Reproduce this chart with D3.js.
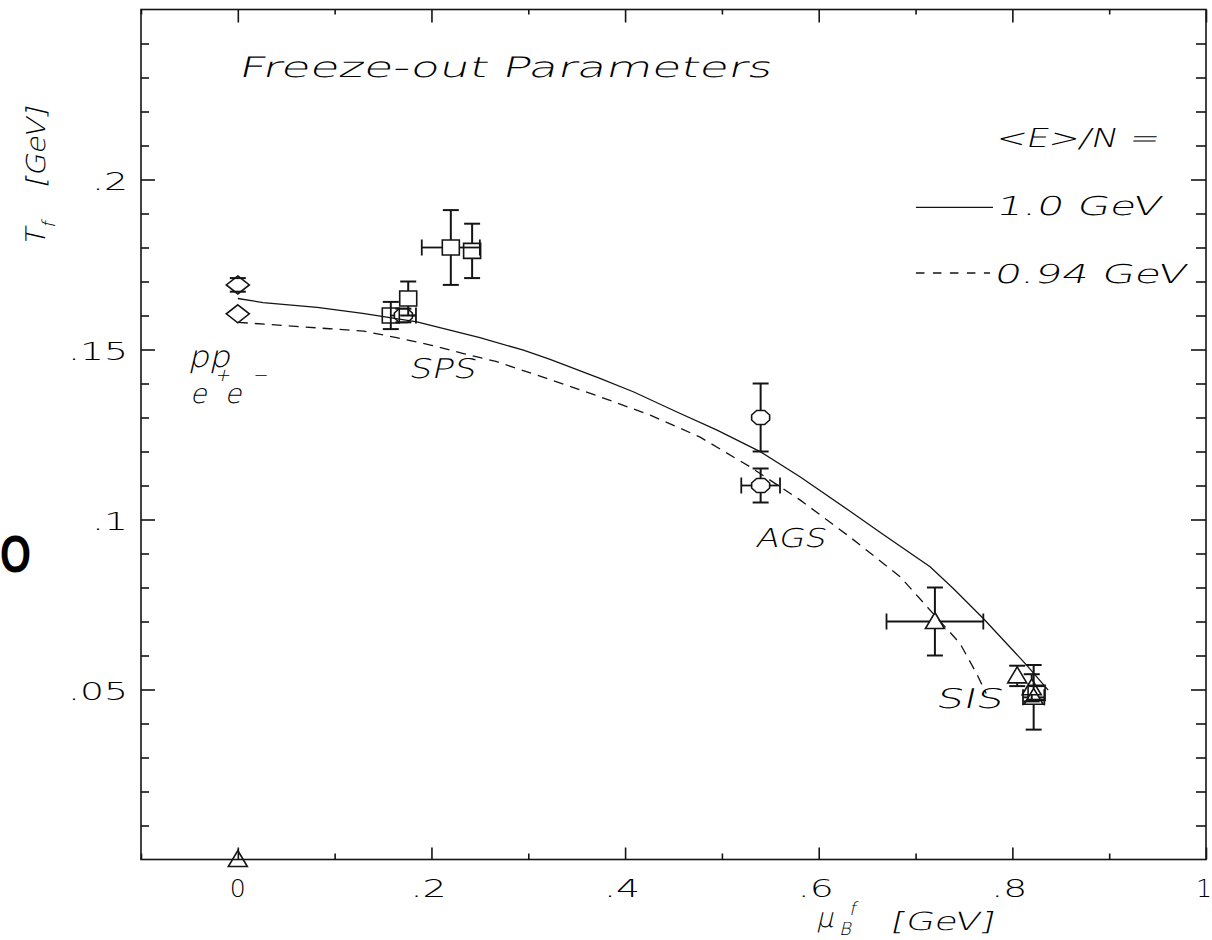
<!DOCTYPE html>
<html>
<head>
<meta charset="utf-8">
<script src="https://cdn.jsdelivr.net/npm/d3@7"></script>
<style>
  html, body { margin: 0; padding: 0; background: #fff; }
  svg { display: block; }
  text { font-family: "DejaVu Sans ExtraLight", "DejaVu Sans", sans-serif; font-weight: 200; fill: #000; }
</style>
</head>
<body>
<svg id="chart" width="1212" height="940"></svg>
<script>
// Thermal-model freeze-out curves, <E>/N = 1.0 GeV (solid)
const muSolid = [0, 0.026, 0.082, 0.129, 0.185, 0.219, 0.25, 0.295, 0.3225, 0.374, 0.409, 0.453,
                 0.495, 0.54, 0.581, 0.632, 0.667, 0.715, 0.739, 0.77, 0.815, 0.837];
const tSolid  = [0.165, 0.1638, 0.1624, 0.1606, 0.1581, 0.1557, 0.1535, 0.1498, 0.1471, 0.1415, 0.1375, 0.1317,
                 0.1263, 0.1199, 0.1125, 0.1025, 0.0955, 0.0861, 0.0797, 0.0709, 0.0571, 0.0498];

// <E>/N = 0.94 GeV (dashed)
const muDashed = [0, 0.095, 0.13, 0.164, 0.199, 0.233, 0.2675, 0.319, 0.374, 0.426, 0.477, 0.529,
                  0.581, 0.632, 0.684, 0.718, 0.746, 0.763, 0.773];
const tDashed  = [0.158, 0.1561, 0.1554, 0.1535, 0.1513, 0.1488, 0.1464, 0.1415, 0.1361, 0.1307, 0.1243, 0.1155,
                  0.1057, 0.0949, 0.0832, 0.0724, 0.0635, 0.0547, 0.0488];

// Data points: [mu_B, T, error in mu_B, error in T]
const diamondPoints = [[0, 0.169, 0, 0.002], [0, 0.1605, 0, 0]];
const squarePoints = [[0.158, 0.160, 0, 0.004], [0.176, 0.165, 0, 0.005], [0.22, 0.180, 0.03, 0.011],
                      [0.242, 0.179, 0, 0.008], [0.825, 0.049, 0, 0.002]];
const octagonPoints = [[0.171, 0.160, 0.013, 0.002], [0.54, 0.130, 0, 0.01], [0.54, 0.110, 0.02, 0.005]];
const trianglePoints = [[0.72, 0.070, 0.05, 0.01], [0.805, 0.054, 0, 0.003], [0.82, 0.0505, 0, 0.004],
                        [0.822, 0.0477, 0.011, 0.0095], [0, 0, 0, 0]];

// Axis ticks
const xMajor = [0, 0.2, 0.4, 0.6, 0.8, 1];
const xMajorLabels = ["0", ".2", ".4", ".6", ".8", "1"];
const xMinor = [-0.1, 0.1, 0.3, 0.5, 0.7, 0.9];
const yMajor = [0.05, 0.1, 0.15, 0.2];
const yMajorLabels = [".05", ".1", ".15", ".2"];
const yMinor = d3.range(1, 25).map(i => i / 100).filter(v => Math.round(v * 100) % 5 !== 0);

const svg = d3.select("#chart");
const ink = "#141414";
const slant = -13;

const x = d3.scaleLinear().domain([-0.1, 1]).range([141, 1206]);
const y = d3.scaleLinear().domain([0, 0.25]).range([859.5, 9.5]);

// Stray glyph at the left margin, a condensed heavy "O" in the first 30 pixels
const stray = svg.append("text").attr("x", 0).attr("y", 0)
  .style("font-family", "'Liberation Sans', Arial, sans-serif").style("font-weight", 700)
  .style("font-size", "51px").style("fill", "#000").text("O");
{
  const b = stray.node().getBBox();
  const sx = 31 / b.width;
  stray.attr("transform", `translate(${-b.x * sx},572) scale(${sx},1)`);
}

// Frame
svg.append("rect").attr("x", x(-0.1)).attr("y", y(0.25))
  .attr("width", x(1) - x(-0.1)).attr("height", y(0) - y(0.25))
  .attr("fill", "none").attr("stroke", ink).attr("stroke-width", 1.6);

// Inward ticks on all four sides
function ticks(axis, tx, ty, values, size) {
  const g = svg.append("g").attr("transform", `translate(${tx},${ty})`)
    .call(axis.tickValues(values).tickSize(size).tickFormat(""));
  g.select(".domain").remove();
  g.selectAll("line").attr("stroke", ink).attr("stroke-width", 1.6);
}
ticks(d3.axisBottom(x), 0, y(0), xMajor, -12);
ticks(d3.axisBottom(x), 0, y(0), xMinor, -6);
ticks(d3.axisTop(x), 0, y(0.25), xMajor, -13);
ticks(d3.axisTop(x), 0, y(0.25), xMinor, -5);
ticks(d3.axisLeft(y), x(-0.1), 0, yMajor, -14);
ticks(d3.axisLeft(y), x(-0.1), 0, yMinor, -8);
ticks(d3.axisRight(y), x(1), 0, yMajor, -15);
ticks(d3.axisRight(y), x(1), 0, yMinor, -10);

// Text helper; slanted text is a thin upright face sheared about its baseline
function label(str, px, py, size, len, italic) {
  const g = svg.append("g").attr("transform", `translate(${px},${py})` + (italic ? ` skewX(${slant})` : ""));
  const t = g.append("text").attr("x", 0).attr("y", 0).style("font-size", size + "px").text(str);
  if (len) t.attr("textLength", len).attr("lengthAdjust", "spacingAndGlyphs");
  return g;
}

// Tick labels
yMajor.forEach((v, i) => {
  const s = yMajorLabels[i];
  const len = s.length === 3 ? 60 : 36;
  label(s, 128 - len, y(v) + 10, 25, len, false);
});
xMajor.forEach((v, i) => {
  const s = xMajorLabels[i];
  if (s.length === 1) {
    label(s, x(v) - (v === 1 ? 10 : 8), 897, 25, 16, false);
  } else {
    label(s, x(v) - 21, 897, 25, 36, false);
  }
});

// Axis titles
const yTitle = svg.append("g").attr("transform", `translate(45,246) rotate(-90) skewX(${slant})`);
yTitle.append("text").attr("x", 0).attr("y", 0).style("font-size", "27px").text("T");
yTitle.append("text").attr("x", 20).attr("y", 10).style("font-size", "18px").text("f");
yTitle.append("text").attr("x", 58).attr("y", 0).style("font-size", "26px")
  .attr("textLength", 80).attr("lengthAdjust", "spacingAndGlyphs").text("[GeV]");

label("\u03bc", 816, 927, 27, null, true);
label("f", 849, 915, 18, null, true);
label("B", 839, 935, 18, null, true);
label("[GeV]", 890, 930, 25, 103, true);

// Curves
const line = d3.line().x(d => x(d[0])).y(d => y(d[1]));
svg.append("path").datum(d3.zip(muSolid, tSolid)).attr("d", line)
  .attr("fill", "none").attr("stroke", ink).attr("stroke-width", 1.3);
svg.append("path").datum(d3.zip(muDashed, tDashed)).attr("d", line)
  .attr("fill", "none").attr("stroke", ink).attr("stroke-width", 1.3).attr("stroke-dasharray", "10,7");

// Markers: outline shape and its extents around the centre
const shapes = {
  square:   { path: "M-8.5,-7.5H8.5V7.5H-8.5Z", top: 7.5, bottom: 7.5, side: 8.5 },
  diamond:  { path: "M0,-9L11.5,0L0,9L-11.5,0Z", top: 9, bottom: 9, side: 11.5 },
  octagon:  { path: "M-4,-7L4,-7L9,-2.5L9,2.5L4,7L-4,7L-9,2.5L-9,-2.5Z", top: 7, bottom: 7, side: 9 },
  triangle: { path: "M0,-9L9.5,7L-9.5,7Z", top: 9, bottom: 7, side: 5.3 }
};
const cap = 8;

function drawSet(points, kind) {
  const s = shapes[kind];
  const g = svg.append("g").attr("stroke", ink).attr("fill", "none");
  points.forEach(([mu, t, dm, dt]) => {
    const cx = x(mu), cy = y(t);
    if (dt > 0) {
      const yt = y(t + dt), yb = y(t - dt);
      if (cy - s.top > yt) g.append("line").attr("x1", cx).attr("x2", cx).attr("y1", yt).attr("y2", cy - s.top).attr("stroke-width", 2);
      if (cy + s.bottom < yb) g.append("line").attr("x1", cx).attr("x2", cx).attr("y1", cy + s.bottom).attr("y2", yb).attr("stroke-width", 2);
      g.append("line").attr("x1", cx - cap).attr("x2", cx + cap).attr("y1", yt).attr("y2", yt).attr("stroke-width", 2);
      g.append("line").attr("x1", cx - cap).attr("x2", cx + cap).attr("y1", yb).attr("y2", yb).attr("stroke-width", 2);
    }
    if (dm > 0) {
      const xl = x(mu - dm), xr = x(mu + dm);
      if (cx - s.side > xl) g.append("line").attr("x1", xl).attr("x2", cx - s.side).attr("y1", cy).attr("y2", cy).attr("stroke-width", 1.8);
      if (cx + s.side < xr) g.append("line").attr("x1", cx + s.side).attr("x2", xr).attr("y1", cy).attr("y2", cy).attr("stroke-width", 1.8);
      g.append("line").attr("x1", xl).attr("x2", xl).attr("y1", cy - cap).attr("y2", cy + cap).attr("stroke-width", 1.8);
      g.append("line").attr("x1", xr).attr("x2", xr).attr("y1", cy - cap).attr("y2", cy + cap).attr("stroke-width", 1.8);
    }
    g.append("path").attr("d", s.path).attr("transform", `translate(${cx},${cy})`).attr("stroke-width", 1.6);
  });
}
drawSet(diamondPoints, "diamond");
drawSet(squarePoints, "square");
drawSet(octagonPoints, "octagon");
drawSet(trianglePoints, "triangle");

// Annotations
label("Freeze-out Parameters", x(0), y(0.2301), 28, 533, true);
label("SPS", x(0.1758), y(0.1416), 27, 67, true);
label("AGS", x(0.5342), y(0.0919), 26, 70, true);
label("SIS", x(0.7201), y(0.0446), 27, 67, true);
label("pp", x(-0.0514), y(0.1448), 30, 42, true);
const ee = svg.append("g").attr("transform", `translate(${x(-0.0494)},${y(0.1343)}) skewX(${slant})`)
  .append("text").attr("x", 0).attr("y", 0).style("font-size", "27px");
ee.append("tspan").text("e");
ee.append("tspan").attr("dx", 3).attr("dy", -22).style("font-size", "18px").text("+");
ee.append("tspan").attr("dx", 0).attr("dy", 22).text("e");
ee.append("tspan").attr("dx", 6).attr("dy", -22).style("font-size", "18px").text("\u2212");

// Legend
label("<E>/N =", x(0.7821), y(0.2096), 26, 163, true);
svg.append("line").attr("x1", x(0.7004)).attr("x2", x(0.78)).attr("y1", y(0.1918)).attr("y2", y(0.1918))
  .attr("stroke", ink).attr("stroke-width", 1.4);
label("1.0 GeV", x(0.7821), y(0.1896), 26, 165, true);
svg.append("line").attr("x1", x(0.7004)).attr("x2", x(0.7769)).attr("y1", y(0.1725)).attr("y2", y(0.1725))
  .attr("stroke", ink).attr("stroke-width", 1.4).attr("stroke-dasharray", "8.5,8.5");
label("0.94 GeV", x(0.78), y(0.1696), 26, 192, true);
</script>
</body>
</html>
